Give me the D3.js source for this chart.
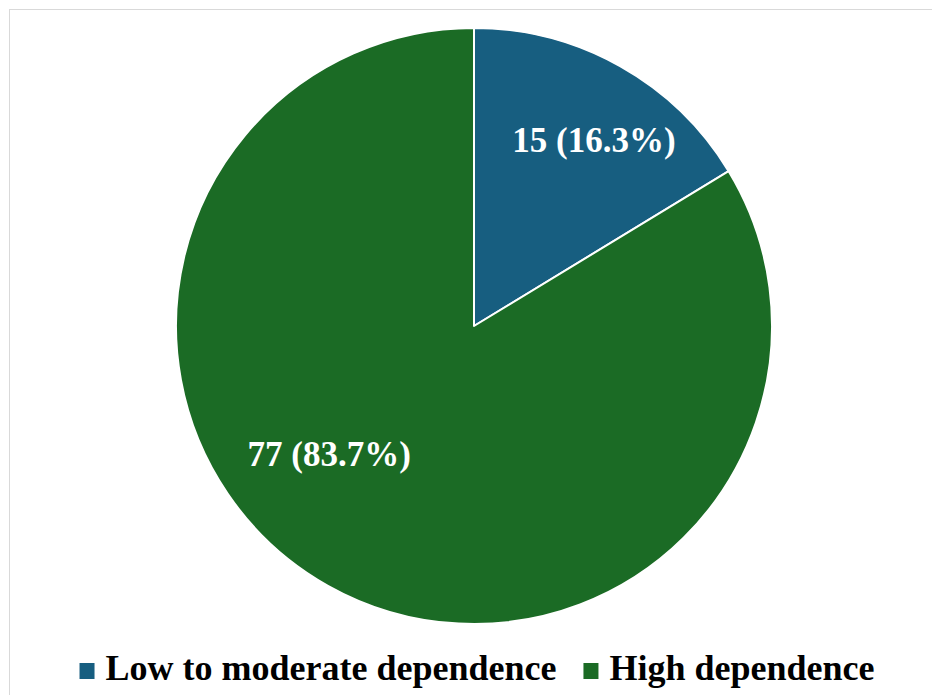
<!DOCTYPE html>
<html>
<head>
<meta charset="utf-8">
<script src="https://cdn.jsdelivr.net/npm/d3@7"></script>
<style>
  html, body { margin: 0; padding: 0; background: #ffffff; }
  svg { display: block; }
  text { font-family: "Liberation Serif", "Times New Roman", serif; font-weight: bold; }
</style>
</head>
<body>
<svg id="chart" width="932" height="695"></svg>
<script>
// Data
const categories = ["Low to moderate dependence", "High dependence"];
const counts = [15, 77];
const percents = [16.3, 83.7];
const colors = ["#175e80", "#1b6b25"];

// Layout
const W = 932, H = 695;
const cx = 474, cy = 326, R = 298;
// label placement per slice: fraction of radius and angular nudge (degrees)
const labelRadius = [0.74, 0.65];
const labelNudge = [3.6, 19];

const svg = d3.select("#chart");

// Chart frame
svg.append("rect")
  .attr("x", 9.5).attr("y", 9.5)
  .attr("width", W + 20).attr("height", H + 20)
  .attr("fill", "none")
  .attr("stroke", "#d9d9d9")
  .attr("stroke-width", 1);

const data = categories.map((c, i) => ({ name: c, count: counts[i], pct: percents[i], color: colors[i] }));

const pie = d3.pie().sort(null).value(d => d.count).startAngle(0);
const arcs = pie(data);
const arc = d3.arc().innerRadius(0).outerRadius(R);

const g = svg.append("g").attr("transform", `translate(${cx},${cy})`);

g.selectAll("path.slice")
  .data(arcs)
  .join("path")
  .attr("class", "slice")
  .attr("d", arc)
  .attr("fill", d => d.data.color)
  .attr("stroke", "#ffffff")
  .attr("stroke-width", 2)
  .attr("stroke-linejoin", "round");

g.selectAll("text.value")
  .data(arcs)
  .join("text")
  .attr("class", "value")
  .attr("text-anchor", "middle")
  .attr("dominant-baseline", "central")
  .attr("fill", "#ffffff")
  .attr("font-size", 35)
  .attr("transform", (d, i) => {
    const a = (d.startAngle + d.endAngle) / 2 + labelNudge[i] * Math.PI / 180;
    const r = R * labelRadius[i];
    return `translate(${r * Math.sin(a)},${-r * Math.cos(a)})`;
  })
  .text(d => `${d.data.count} (${d.data.pct.toFixed(1)}%)`);

// Legend
const legend = svg.append("g");
const sq = 15, gapText = 11, gapItem = 27;
const baseY = 680;
let x = 0;
data.forEach((d, i) => {
  const item = legend.append("g");
  item.append("rect")
    .attr("x", x).attr("y", baseY - 17)
    .attr("width", sq).attr("height", sq + 1)
    .attr("fill", d.color);
  const t = item.append("text")
    .attr("x", x + sq + gapText)
    .attr("y", baseY)
    .attr("font-size", 36)
    .attr("fill", "#000000")
    .text(d.name);
  x += sq + gapText + t.node().getComputedTextLength() + gapItem;
});
const legendWidth = x - gapItem;
legend.attr("transform", `translate(${477 - legendWidth / 2},0)`);
</script>
</body>
</html>
